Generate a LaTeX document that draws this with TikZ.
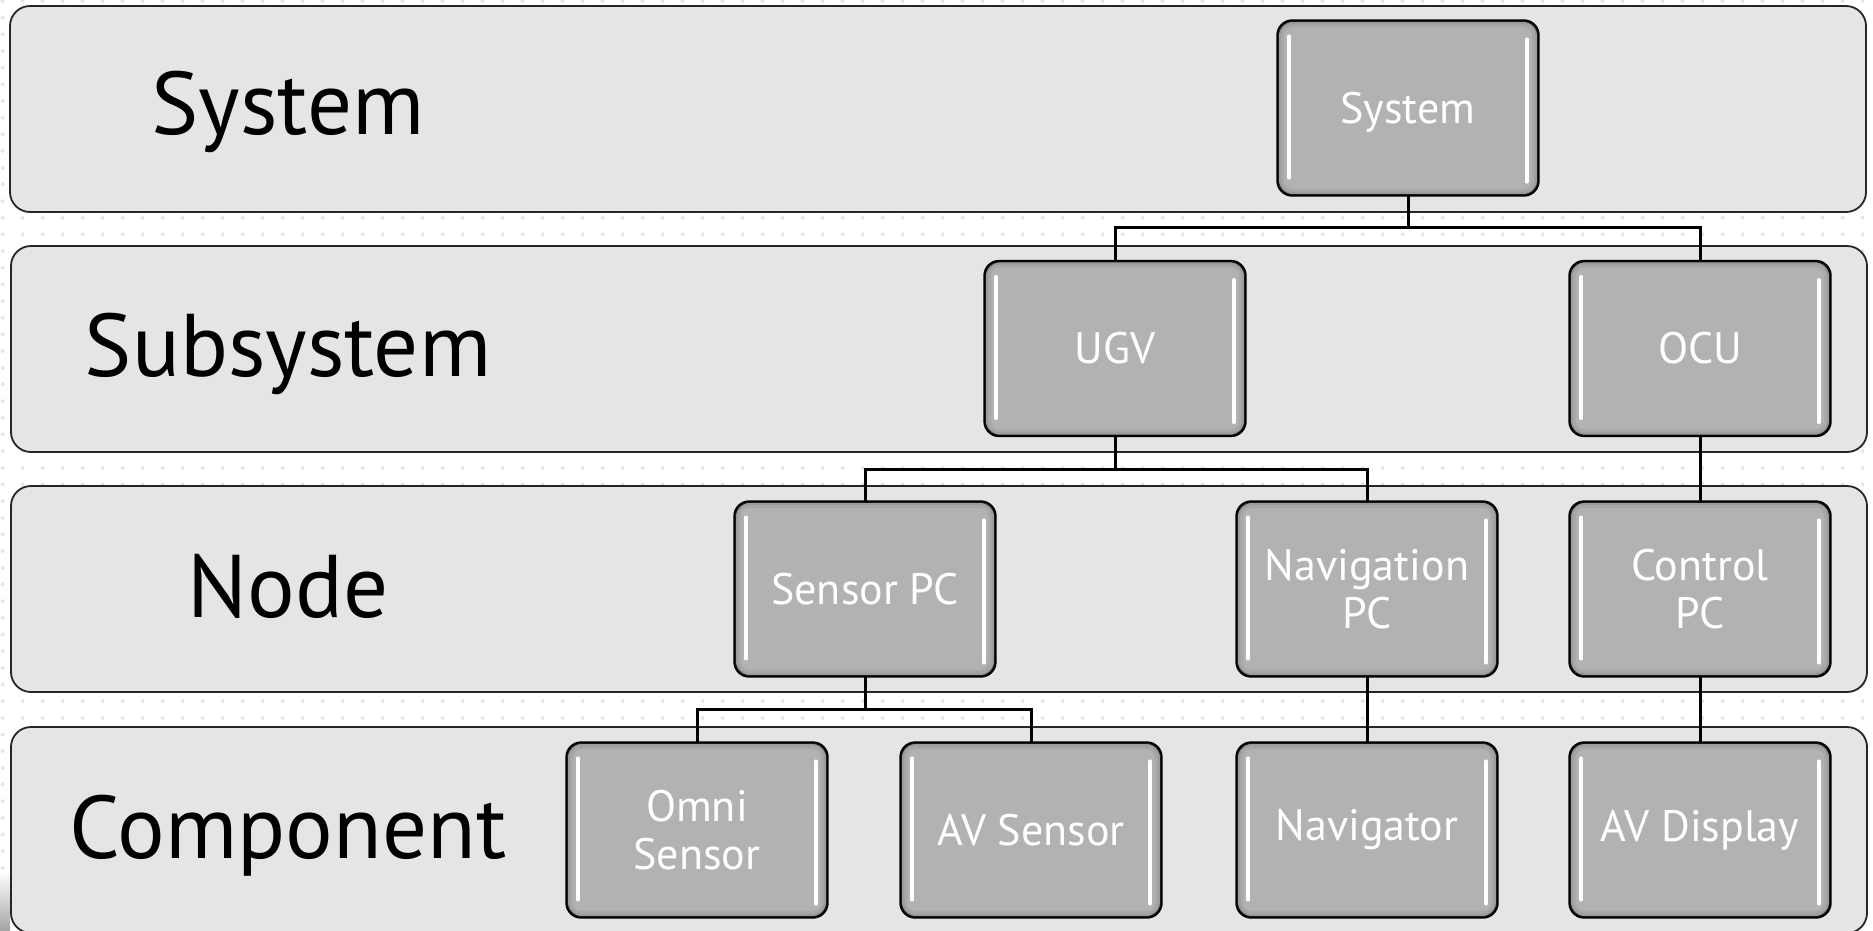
\documentclass[tikz,border=0pt]{standalone}
\usepackage{fontspec}
\setmainfont{PT Sans}
\begin{document}
\begin{tikzpicture}[x=1pt,y=-1pt,
  band/.style={draw=black!85, line width=1.8pt, fill=black!10, rounded corners=20pt, minimum width=1856pt, minimum height=206pt, inner sep=0pt},
  bandlabel/.style={font=\fontsize{89}{100}\selectfont, text=black, anchor=base},
  box/.style={draw=black, line width=1.6pt, fill=black!30, rounded corners=15pt, minimum width=260pt, minimum height=174pt, inner sep=0pt, text=white, align=center, font=\fontsize{44}{48}\selectfont},
  boxedge/.style={draw=black, line width=1.8pt, rounded corners=15pt},
  glow/.style={draw=black!60, rounded corners=15pt},
  hl/.style={draw=white, line width=3.5pt, line cap=round},
  conn/.style={draw=black, line width=3pt},
  dot/.style={draw=black!15, line width=0.7pt}]
\useasboundingbox (0,0) rectangle (1873,930);
\fill[white] (0,0) rectangle (1873,930);
% dotted background
\foreach \i in {0,...,93}{
  \foreach \j in {0,...,55}{
    \draw[dot] (2.7+20*\i, 1+16.67*\j) circle[radius=1.5pt];
  }
}
\shade[top color=white, bottom color=black!35] (0,872) rectangle (10,930);
% bands
\node[band] (b1) at (938,109) {};
\node[band] (b2) at (939,349) {};
\node[band] (b3) at (939,589) {};
\node[band] (b4) at (939,830) {};
\node[bandlabel] (l1) at (288,134) {System};
\node[bandlabel] (l2) at (288,376) {Subsystem};
\node[bandlabel] (l3) at (288,617) {Node};
\node[bandlabel] (l4) at (288,858) {Component};
% boxes
\node[box, text depth=0pt] (sys) at (1408,108) {System};
\node[box] (ugv) at (1115,348.5) {UGV};
\node[box] (ocu) at (1700,348.5) {OCU};
\node[box] (spc) at (865,589) {Sensor PC};
\node[box] (npc) at (1367,589) {Navigation\\PC};
\node[box] (cpc) at (1700,589) {Control\\PC};
\node[box] (omni) at (697,830) {Omni\\Sensor};
\node[box] (avs) at (1031,830) {AV Sensor};
\node[box] (nav) at (1367,830) {Navigator};
\node[box] (avd) at (1700,830) {AV Display};
% inner shading and highlights
\foreach \n in {sys,ugv,ocu,spc,npc,cpc,omni,avs,nav,avd}{
  \begin{scope}
    \clip[rounded corners=15pt] (\n.north west) rectangle (\n.south east);
    \draw[glow, line width=14pt, opacity=0.12] (\n.north west) rectangle (\n.south east);
    \draw[glow, line width=8pt, opacity=0.18] (\n.north west) rectangle (\n.south east);
  \end{scope}
  \draw[boxedge] (\n.north west) rectangle (\n.south east);
  \draw[hl] ([xshift=12pt,yshift=-16pt]\n.north west) -- ([xshift=12pt,yshift=18pt]\n.south west);
  \draw[hl] ([xshift=-12pt,yshift=-19pt]\n.north east) -- ([xshift=-12pt,yshift=14pt]\n.south east);
}
% connectors
\draw[conn] (sys.south) -- ++(0,32) coordinate (j1) -| (ugv.north);
\draw[conn] (j1) -| (ocu.north);
\draw[conn] (ugv.south) -- ++(0,33) coordinate (j2) -| (spc.north);
\draw[conn] (j2) -| (npc.north);
\draw[conn] (ocu.south) -- (cpc.north);
\draw[conn] (spc.south) -- ++(0,33) coordinate (j3) -| (omni.north);
\draw[conn] (j3) -| (avs.north);
\draw[conn] (npc.south) -- (nav.north);
\draw[conn] (cpc.south) -- (avd.north);
\end{tikzpicture}
\end{document}
